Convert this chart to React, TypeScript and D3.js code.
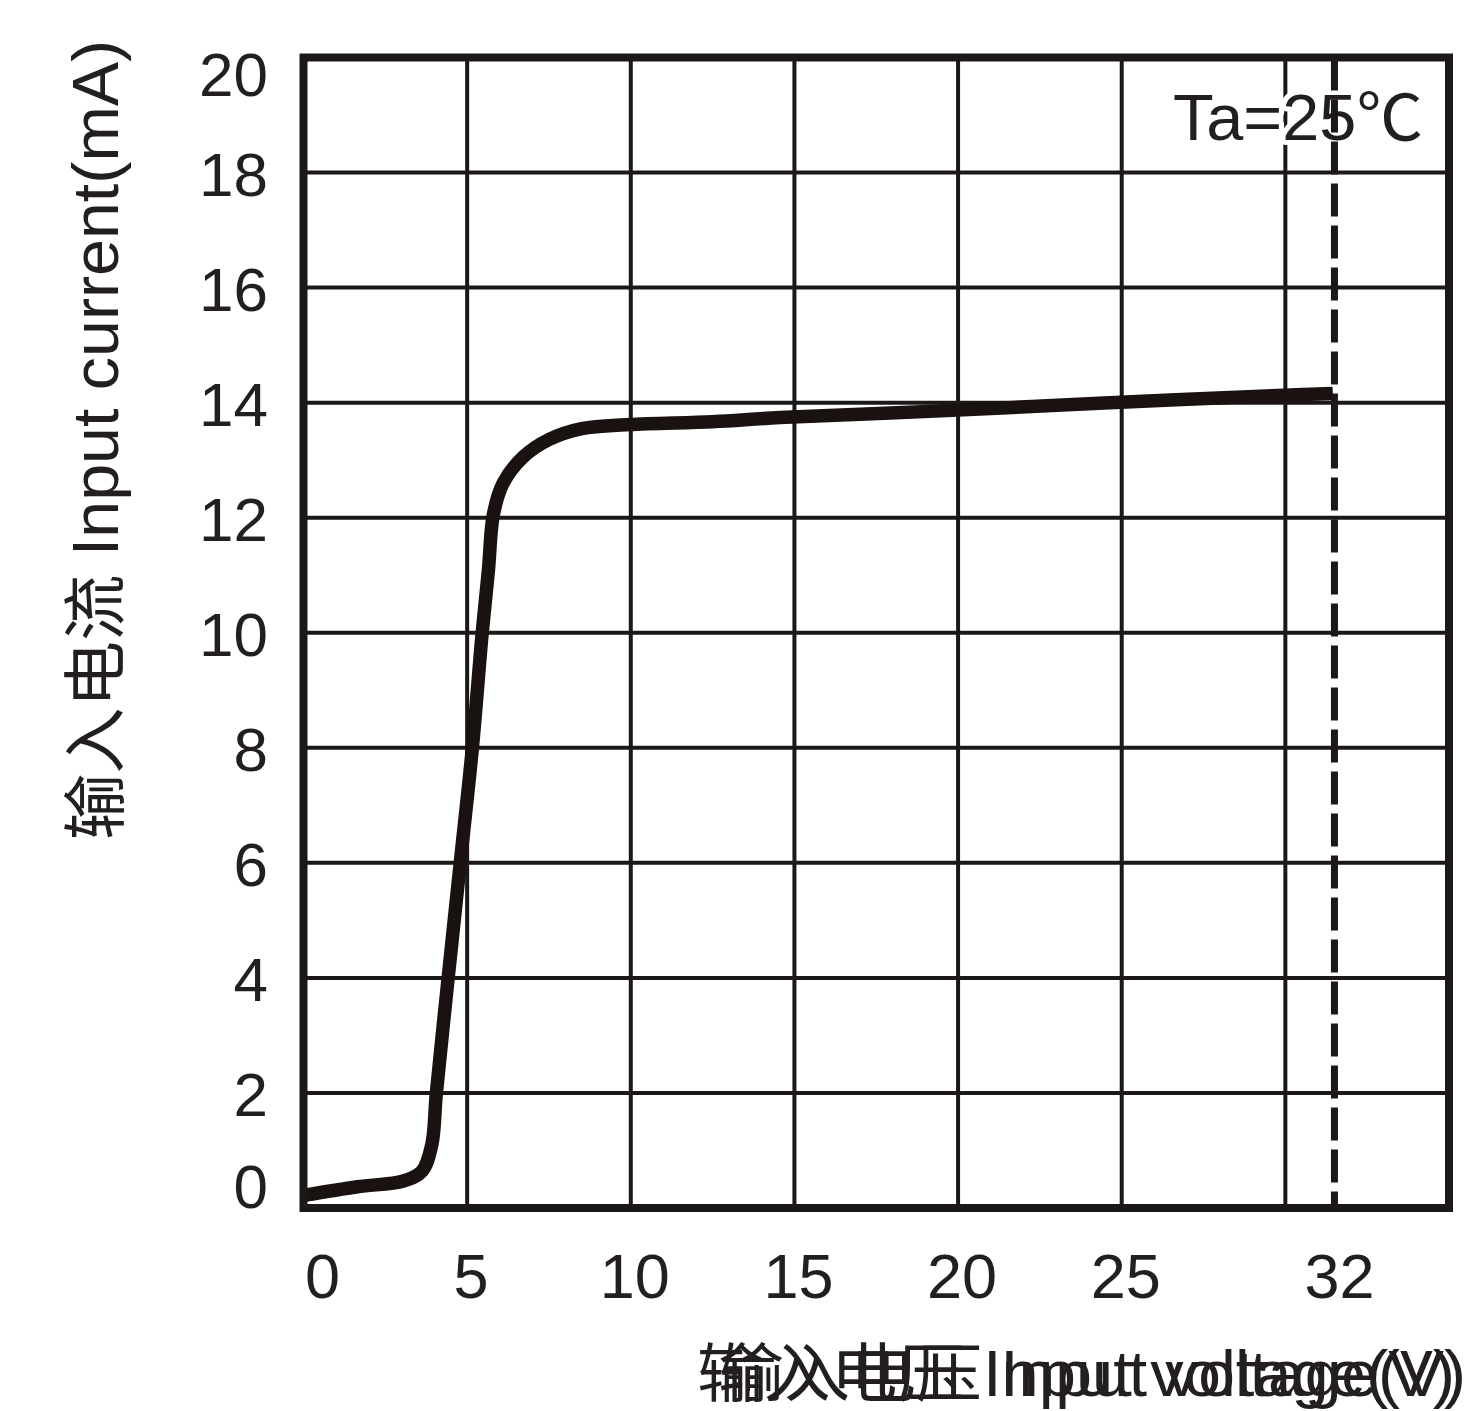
import React from 'react';
import * as d3 from 'd3';

// Input voltage (V) vs input current (mA)
const voltage = [0, 1.65, 3.05, 3.62, 3.92, 4.06, 4.42, 4.79, 5.16, 5.46, 5.65, 5.8, 6.1, 6.7, 7.5, 8.5, 9.95, 12.5, 14.56, 20, 24.3, 30, 31.45];
const current = [0.22, 0.37, 0.47, 0.64, 1.1, 2.0, 4.0, 6.0, 8.0, 10.0, 11.09, 12.05, 12.6, 13.05, 13.36, 13.55, 13.62, 13.67, 13.74, 13.87, 13.99, 14.13, 14.16];

const xDomain = [0, 35];
const yDomain = [0, 20];
const xTickValues = [0, 5, 10, 15, 20, 25];
const xGridValues = [5, 10, 15, 20, 25, 30];
const yTickValues = [0, 2, 4, 6, 8, 10, 12, 14, 16, 18, 20];
const yGridValues = [2, 4, 6, 8, 10, 12, 14, 16, 18];
const limitVoltage = 31.5;
const limitLabel = '32';
const ambientLabel = 'Ta=25℃';
const xTitle = '输入电压 Input voltage(V)';
const yTitle = '输入电流 Input current(mA)';

const INK = '#1c1818';
const TEXT = '#231f20';
const FONT = "'Liberation Sans', Arial, 'Noto Sans CJK SC', sans-serif";

export default function App() {
  const x = d3.scaleLinear().domain(xDomain).range([303.5, 1449]);
  const y = d3.scaleLinear().domain(yDomain).range([1208, 57.5]);

  const pts: [number, number][] = voltage.map((v, i) => [v, current[i]]);
  const line = d3
    .line<[number, number]>()
    .x((d) => x(d[0]))
    .y((d) => y(d[1]))
    .curve(d3.curveCatmullRom.alpha(0.5));

  const [x0, x1] = x.range();
  const [y0, y1] = y.range();

  return (
    <svg
      width={1478}
      height={1411}
      style={{ position: 'absolute', left: 0, top: 0, background: '#fff' }}
      fontFamily={FONT}
    >
      <rect x={0} y={0} width={1478} height={1411} fill="#fff" />
      {/* grid */}
      {xGridValues.map((v) => (
        <line key={'gx' + v} x1={x(v)} x2={x(v)} y1={y1} y2={y0} stroke={INK} strokeWidth={4} />
      ))}
      {yGridValues.map((v) => (
        <line key={'gy' + v} x1={x0} x2={x1} y1={y(v)} y2={y(v)} stroke={INK} strokeWidth={4} />
      ))}

      {/* ambient label with white halo */}
      <text
        x={1423}
        y={140}
        fontSize={64}
        textAnchor="end"
        fill={TEXT}
        stroke="#fff"
        strokeWidth={10}
        paintOrder="stroke"
        strokeLinejoin="round"
        textLength={250}
        lengthAdjust="spacingAndGlyphs"
      >
        {ambientLabel}
      </text>

      {/* limit dashed line */}
      <line
        x1={x(limitVoltage)}
        x2={x(limitVoltage)}
        y1={y1}
        y2={y0}
        stroke={INK}
        strokeWidth={7}
        strokeDasharray="33 9"
      />

      {/* curve */}
      <path d={line(pts) || ''} fill="none" stroke="#1a1210" strokeWidth={13.5} strokeLinejoin="round" strokeLinecap="butt" />

      {/* frame */}
      <rect x={x0} y={y1} width={x1 - x0} height={y0 - y1} fill="none" stroke={INK} strokeWidth={8} />

      {/* y tick labels */}
      {yTickValues.map((v) => {
        const dy = v === 20 ? 38 : v === 0 ? 0 : 23;
        return (
          <text key={'yt' + v} x={268} y={y(v) + dy} fontSize={62} textAnchor="end" fill={TEXT}>
            {v}
          </text>
        );
      })}

      {/* x tick labels */}
      {xTickValues.map((v) => (
        <text key={'xt' + v} x={x(v) + (v === 0 ? 19 : 4)} y={1298} fontSize={63} textAnchor="middle" fill={TEXT}>
          {v}
        </text>
      ))}
      <text x={x(limitVoltage) + 5} y={1298} fontSize={63} textAnchor="middle" fill={TEXT}>
        {limitLabel}
      </text>

      {/* y title */}
      <text
        transform={`translate(118, 440) rotate(-90)`}
        fontSize={64}
        textAnchor="middle"
        fill={TEXT}
        textLength={800}
        lengthAdjust="spacingAndGlyphs"
      >
        {yTitle}
      </text>

      {/* x title (doubled, as in the reference) */}
      <text x={697} y={1396} fontSize={64} fill={TEXT} textLength={758} lengthAdjust="spacingAndGlyphs">
        {xTitle}
      </text>
      <text x={718} y={1396} fontSize={64} fill={TEXT} textLength={748} lengthAdjust="spacingAndGlyphs">
        {xTitle}
      </text>
    </svg>
  );
}
